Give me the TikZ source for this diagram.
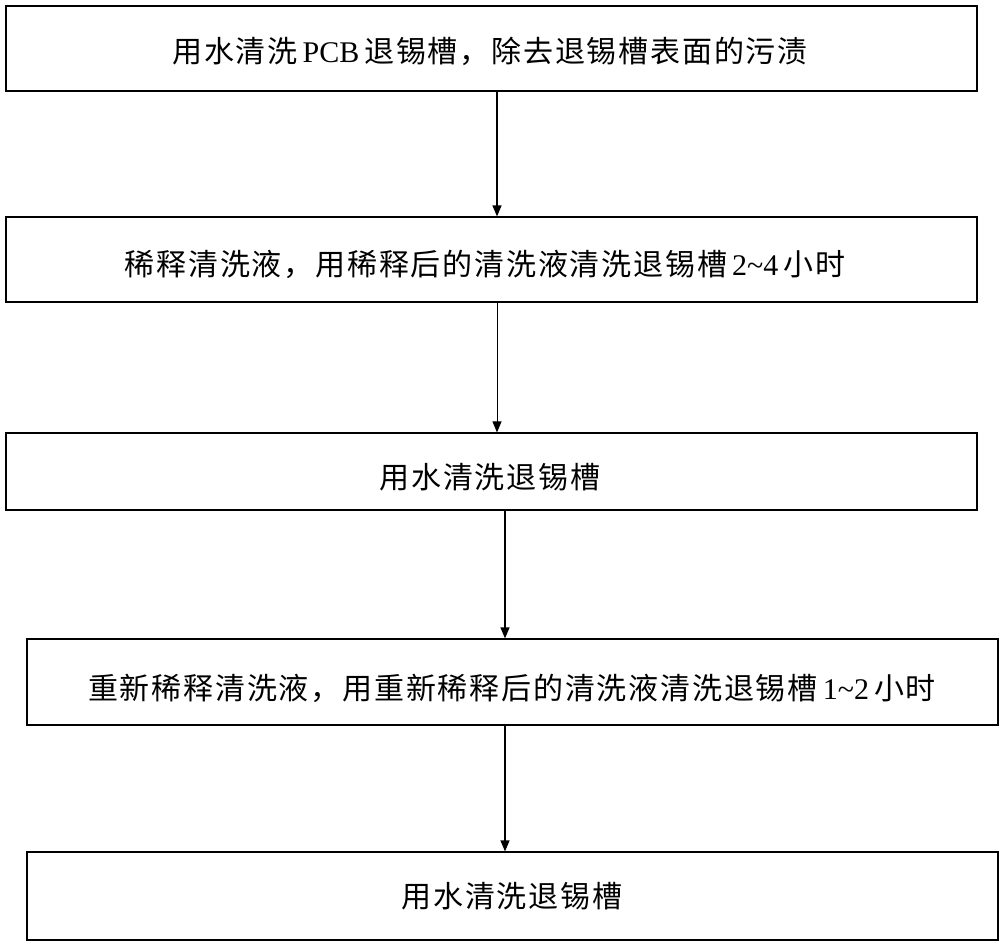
\documentclass[tikz,border=0pt]{standalone}
\usepackage{fontspec}
\setmainfont{Liberation Serif}
\newfontfamily\cjk[LetterSpace=6]{Noto Sans CJK SC}
\usetikzlibrary{arrows.meta}

\begin{document}
\begin{tikzpicture}[x=1pt,y=-1pt,line width=1.2pt,font=\fontsize{30}{34}\selectfont]
    \tikzstyle{stepbox}=[draw,rectangle,minimum width=971pt,inner sep=0pt]
    \tikzstyle{flow}=[-{Triangle[length=11pt,width=9pt]}]

    \useasboundingbox (0,0) rectangle (1000,944);

    % Draw the process steps
    \node[stepbox, minimum height=85pt] (S-1) at (491.5,48.5) {};
    \node[stepbox, minimum height=85pt] (S-2) at (491.5,259.5) {};
    \node[stepbox, minimum height=77pt] (S-3) at (491.5,471.5) {};
    \node[stepbox, minimum height=86pt] (S-4) at (512.5,682) {};
    \node[stepbox, minimum height=88pt] (S-5) at (512.5,896) {};

    % Step texts
    \node (T-1) at (490,51) {{\cjk 用水清洗}\,PCB\,{\cjk 退锡槽，除去退锡槽表面的污渍}};
    \node (T-2) at (485,264) {{\cjk 稀释清洗液，用稀释后的清洗液清洗退锡槽}\,2\textasciitilde4\,{\cjk 小时}};
    \node (T-3) at (490,477) {\cjk 用水清洗退锡槽};
    \node (T-4) at (512,688) {{\cjk 重新稀释清洗液，用重新稀释后的清洗液清洗退锡槽}\,1\textasciitilde2\,{\cjk 小时}};
    \node (T-5) at (512,896) {\cjk 用水清洗退锡槽};

    % Connect every step with the next one
    \draw[flow] (S-1.south -| 497,0) -- (S-2.north -| 497,0);
    \draw[flow, line width=0.8pt] (S-2.south -| 497,0) -- (S-3.north -| 497,0);
    \foreach \source/\dest in {3/4,4/5}
        \draw[flow] (S-\source.south -| 505,0) -- (S-\dest.north -| 505,0);
\end{tikzpicture}
\end{document}
